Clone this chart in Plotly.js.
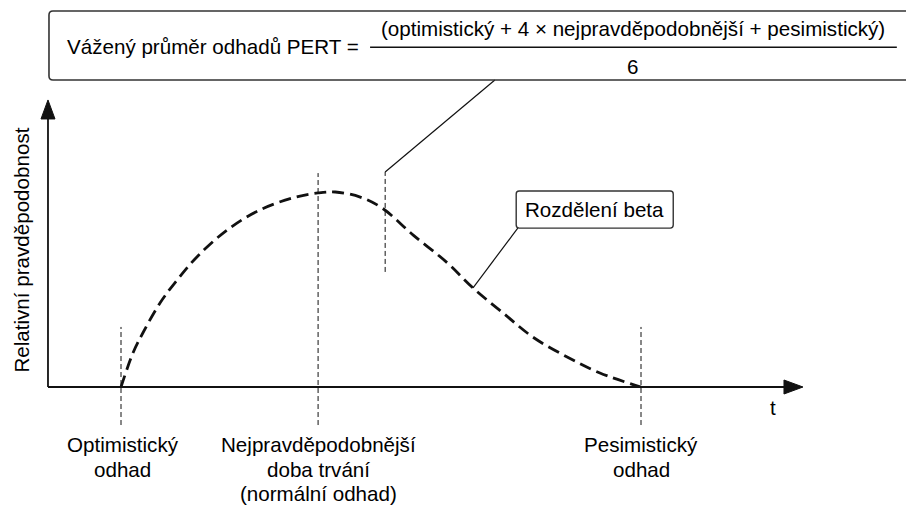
<!DOCTYPE html>
<html>
<head>
<meta charset="utf-8">
<script src="https://cdn.plot.ly/plotly-3.0.1.min.js"></script>
<style>html,body{margin:0;padding:0;background:#fff;}#chart{width:906px;height:505px;}</style>
</head>
<body>
<div id="chart"></div>
<script>
// ---- data (t: relative time, 0 = optimistic, 100 = pessimistic; y: relative probability, peak = 100)
const curveT = [0, 2.3, 4.2, 7.5, 10.8, 14.6, 20.4, 26.7, 33.1, 37.9, 41.2, 46.0, 50.2, 56.2, 62.7, 67.7, 73.5, 79.2, 85.8, 92.1, 100];
const curveY = [0, 17.4, 27.7, 43.1, 54.9, 66.7, 80.5, 90.8, 97.0, 99.5, 100, 97.4, 91.8, 77.9, 63.8, 50.8, 37.9, 25.6, 15.4, 7.2, 0];

const estimateNames = ["Optimistický odhad", "Nejpravděpodobnější doba trvání", "Pesimistický odhad"];
const estimateT = [0, 37.9, 100];
const estimateTop = [30.8, 109.7, 30.8];
const estimateLabelLines = [["Optimistický", "odhad"], ["Nejpravděpodobnější", "doba trvání", "(normální odhad)"], ["Pesimistický", "odhad"]];
const pertMeanT = 50.8;

const formulaLeft = "Vážený průměr odhadů PERT =";
const formulaNum = "(optimistický + 4 × nejpravděpodobnější + pesimistický)";
const formulaDen = "6";
const betaLabel = "Rozdělení beta";
const yTitle = "Relativní pravděpodobnost";
const xTitle = "t";

// ---- scale (pixels per unit), used only for styling conversions
const XR = [-23.269, 150.962];
const YR = [-60.513, 198.462];
const sx = 906 / (XR[1] - XR[0]);
const sy = 505 / (YR[1] - YR[0]);
const px2t = p => p / sx;
const px2y = p => p / sy;

const FONT = "Liberation Sans, Arial, Helvetica, sans-serif";
const INK = "#111";

function roundRect(x0, x1, y0, y1, r) {
  const rx = px2t(r), ry = px2y(r);
  return `M${x0 + rx},${y0} L${x1 - rx},${y0} Q${x1},${y0} ${x1},${y0 + ry} L${x1},${y1 - ry} Q${x1},${y1} ${x1 - rx},${y1} L${x0 + rx},${y1} Q${x0},${y1} ${x0},${y1 - ry} L${x0},${y0 + ry} Q${x0},${y0} ${x0 + rx},${y0} Z`;
}

const axisT = -14.04;
const shapes = [];
// axes
shapes.push({type: "line", xref: "x", yref: "y", x0: axisT, x1: 128.5, y0: 0, y1: 0, line: {color: INK, width: 1.8}});
shapes.push({type: "line", xref: "x", yref: "y", x0: axisT, x1: axisT, y0: 0, y1: 139, line: {color: INK, width: 1.8}});
// arrow heads
const xTip = 131.15, yTip = 147.2;
shapes.push({type: "path", xref: "x", yref: "y", fillcolor: INK, line: {color: INK, width: 1},
  path: `M${xTip},0 L${xTip - px2t(19)},${px2y(7)} L${xTip - px2t(19)},${-px2y(7)} Z`});
shapes.push({type: "path", xref: "x", yref: "y", fillcolor: INK, line: {color: INK, width: 1},
  path: `M${axisT},${yTip} L${axisT - px2t(7)},${yTip - px2y(19)} L${axisT + px2t(7)},${yTip - px2y(19)} Z`});
// estimate markers
estimateT.forEach((t, i) => {
  shapes.push({type: "line", xref: "x", yref: "y", x0: t, x1: t, y0: -19.5, y1: estimateTop[i],
    line: {color: INK, width: 1, dash: "5px,3px"}});
});
// PERT mean marker
shapes.push({type: "line", xref: "x", yref: "y", x0: pertMeanT, x1: pertMeanT, y0: 59, y1: 110.3,
  line: {color: INK, width: 1, dash: "5px,3px"}});
// leader to formula box
shapes.push({type: "line", xref: "x", yref: "y", x0: pertMeanT, x1: 71.9, y0: 110.3, y1: 157.4,
  line: {color: INK, width: 1.2}});
// formula box
shapes.push({type: "path", xref: "x", yref: "y", fillcolor: "rgba(0,0,0,0)", line: {color: "#333", width: 1.6},
  path: roundRect(-13.85, 152.5, 157.4, 192.8, 4)});
// fraction bar
shapes.push({type: "line", xref: "x", yref: "y", x0: 47.9, x1: 149.2, y0: 174.2, y1: 174.2,
  line: {color: INK, width: 1.5}});
// beta label box and leader
shapes.push({type: "path", xref: "x", yref: "y", fillcolor: "#fff", line: {color: "#333", width: 1.4},
  path: roundRect(76.0, 106.2, 81.5, 100.5, 3)});
shapes.push({type: "line", xref: "x", yref: "y", x0: 76.3, x1: 67.7, y0: 81.5, y1: 50.8,
  line: {color: INK, width: 1.2}});

const ann = [];
const fnt = {family: FONT, size: 20.6, color: "#000"};
ann.push({x: -19.1, y: 70.3, xref: "x", yref: "y", text: yTitle, textangle: -90, showarrow: false, font: fnt});
ann.push({x: 125.4, y: -10.3, xref: "x", yref: "y", text: xTitle, showarrow: false, font: fnt});
ann.push({x: 17.6, y: 174.4, xref: "x", yref: "y", text: formulaLeft, showarrow: false, font: fnt});
ann.push({x: 98.4, y: 184.0, xref: "x", yref: "y", text: formulaNum, showarrow: false, font: fnt});
ann.push({x: 98.4, y: 164.2, xref: "x", yref: "y", text: formulaDen, showarrow: false, font: fnt});
ann.push({x: 91.1, y: 90.9, xref: "x", yref: "y", text: betaLabel, showarrow: false, font: fnt});
const lineYs = [-29.7, -42.1, -54.4];
estimateLabelLines.forEach((lines, i) => {
  lines.forEach((s, j) => {
    ann.push({x: estimateT[i] + (i === 0 ? 0.3 : 0), y: lineYs[j], xref: "x", yref: "y", text: s, showarrow: false, font: fnt});
  });
});

const traces = [{
  x: curveT, y: curveY, type: "scatter", mode: "lines", name: betaLabel,
  line: {color: INK, width: 2.8, dash: "12px,6px", shape: "spline", smoothing: 1},
  hoverinfo: "skip"
}];

const layout = {
  width: 906, height: 505,
  margin: {l: 0, r: 0, t: 0, b: 0},
  paper_bgcolor: "#fff", plot_bgcolor: "#fff",
  showlegend: false,
  xaxis: {range: XR, visible: false, fixedrange: true},
  yaxis: {range: YR, visible: false, fixedrange: true},
  shapes: shapes,
  annotations: ann
};

Plotly.newPlot("chart", traces, layout, {displayModeBar: false, staticPlot: true});
</script>
</body>
</html>
